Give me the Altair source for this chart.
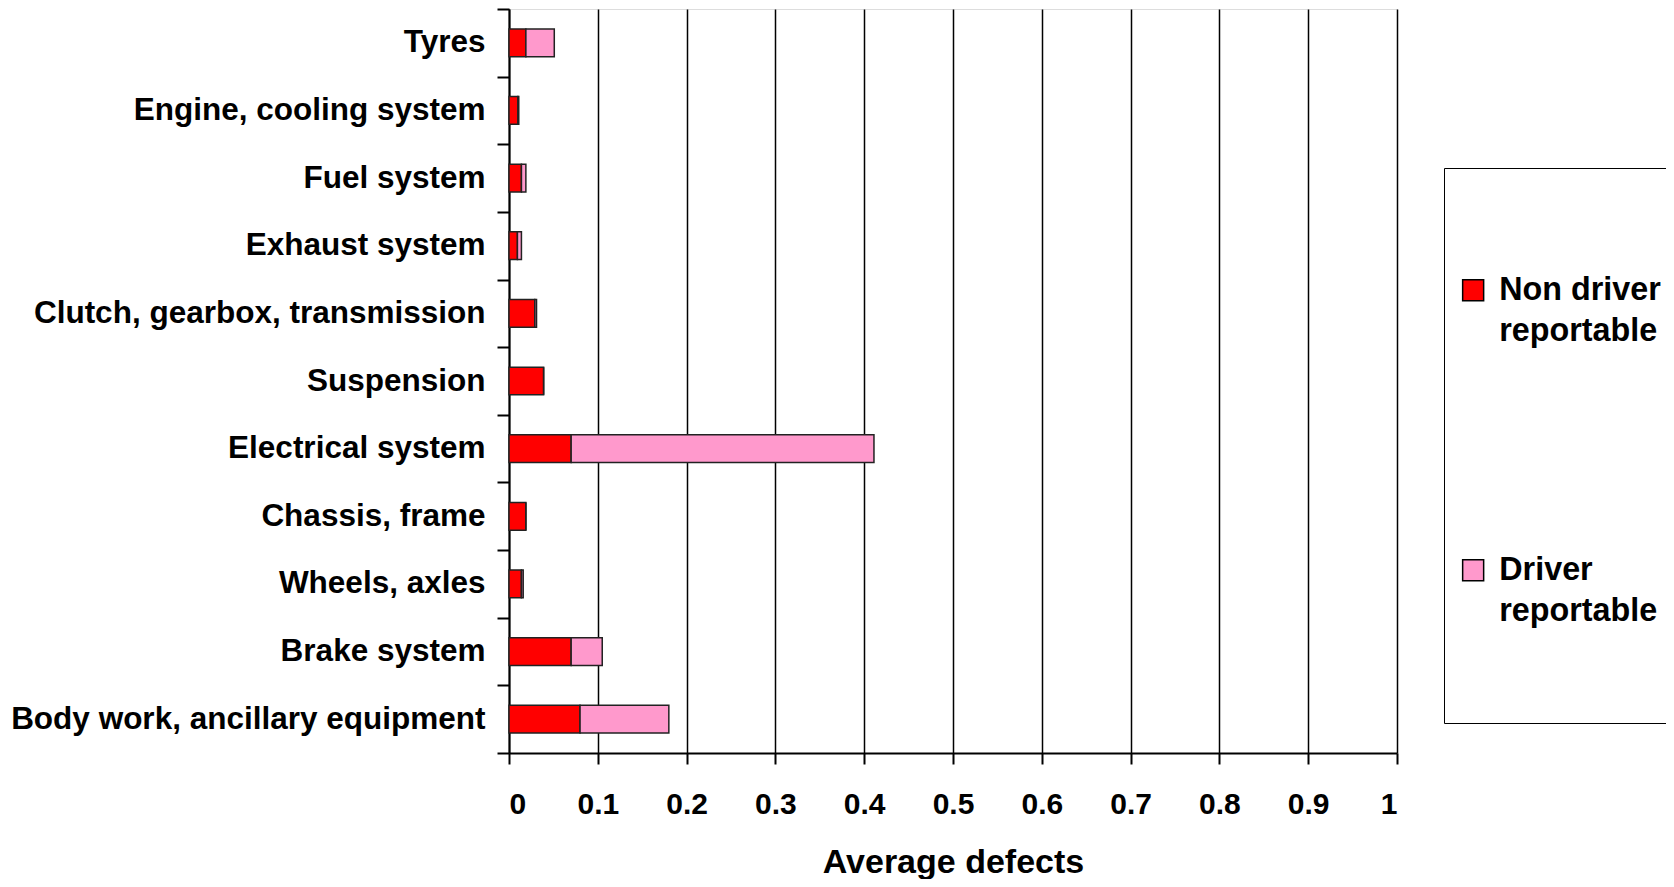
import altair as alt
import pandas as pd

categories = ["Tyres", "Engine, cooling system", "Fuel system", "Exhaust system",
              "Clutch, gearbox, transmission", "Suspension", "Electrical system",
              "Chassis, frame", "Wheels, axles", "Brake system",
              "Body work, ancillary equipment"]
non_driver = [0.019, 0.010, 0.014, 0.0095, 0.029, 0.039, 0.070, 0.019, 0.014, 0.070, 0.080]
driver = [0.032, 0.001, 0.005, 0.0045, 0.002, 0.0, 0.341, 0.0, 0.002, 0.035, 0.100]
series = ["Non driver reportable", "Driver reportable"]
colors = ["#FF0000", "#FF99CC"]
x_ticks = [0, 0.1, 0.2, 0.3, 0.4, 0.5, 0.6, 0.7, 0.8, 0.9, 1]

rows = []
for c, a, b in zip(categories, non_driver, driver):
    rows.append({"category": c, "series": series[0], "order": 0, "value": a})
    rows.append({"category": c, "series": series[1], "order": 1, "value": b})
df = pd.DataFrame(rows)

FONT = "Liberation Sans"
NB = "\u00a0"

label_expr = ("datum.label == 'Non driver reportable' ? ['Non driver', 'reportable', '%s', '%s'] "
              ": ['Driver', 'reportable', '%s', '%s']") % (NB, NB, NB, NB)

chart = alt.Chart(df).mark_bar(stroke="#222222", strokeWidth=1.5,
                              height=alt.RelativeBandSize(0.41)).encode(
    y=alt.Y("category:N", sort=categories,
            scale=alt.Scale(paddingInner=0, paddingOuter=0),
            axis=alt.Axis(title=None, labelFont=FONT, labelFontWeight="bold",
                          labelFontSize=31.5, labelColor="black", labelLimit=600,
                          domainColor="black", domainWidth=2, tickColor="black",
                          tickWidth=2, tickSize=12, tickBand="extent",
                          labelPadding=12, grid=False)),
    x=alt.X("value:Q", stack="zero",
            scale=alt.Scale(domain=[0, 1], nice=False),
            axis=alt.Axis(values=x_ticks, title="Average defects",
                          labelExpr="datum.value == 0 ? '0' : datum.value == 1 ? '1' : format(datum.value, '.1f')",
                          labelFont=FONT, labelFontWeight="bold", labelFontSize=30,
                          labelColor="black", titleFont=FONT, titleFontWeight="bold",
                          titleFontSize=34, titleColor="black", titlePadding=26,
                          domainColor="black", domainWidth=2, tickColor="black",
                          tickWidth=2, tickSize=11, labelPadding=25,
                          grid=True, gridColor="black", gridWidth=1.5, gridOpacity=1)),
    color=alt.Color("series:N", sort=series,
                    scale=alt.Scale(domain=series, range=colors),
                    legend=alt.Legend(orient="none", legendX=935, legendY=159,
                                      title=" ", titleOrient="top", titleFontSize=10,
                                      titlePadding=83,
                                      labelExpr=label_expr, labelFont=FONT,
                                      labelFontWeight="bold", labelFontSize=32.3,
                                      labelColor="black", labelLimit=400, labelOffset=10,
                                      symbolType="square", symbolSize=441,
                                      symbolStrokeColor="black", symbolStrokeWidth=1.5,
                                      symbolOpacity=1,
                                      rowPadding=124, padding=13,
                                      strokeColor="black", fillColor="white")),
    order=alt.Order("order:Q"),
).properties(
    width=888, height=744,
    autosize=alt.AutoSizeParams(type="none"),
    padding={"left": 501, "top": 1, "right": 269, "bottom": 126},
).configure_view(stroke="black", strokeWidth=2).configure(
    background="white",
    style={"guide-label": {"lineHeight": 41}},
)

chart.save("out.html", embed_options={"renderer": "svg", "actions": False})
